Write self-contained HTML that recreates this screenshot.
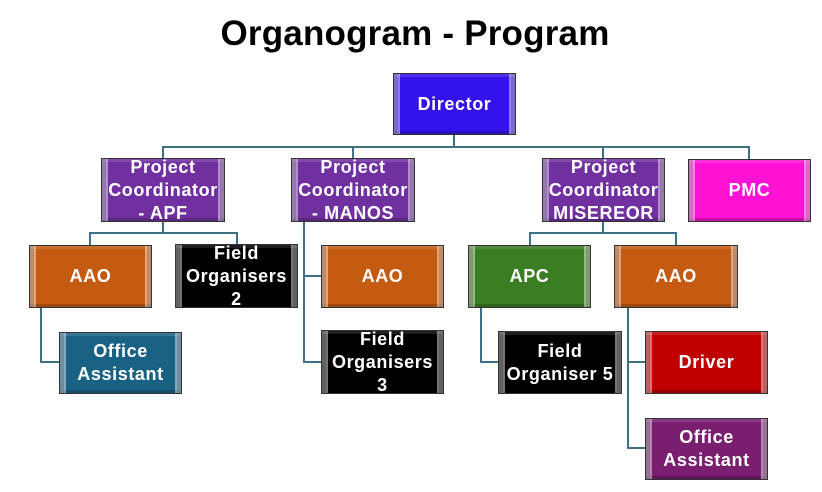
<!DOCTYPE html>
<html><head><meta charset="utf-8"><style>
body{margin:0;width:822px;height:492px;background:#fff;position:relative;overflow:hidden;font-family:"Liberation Sans",sans-serif}
h1{position:absolute;left:4px;top:12px;width:822px;margin:0;text-align:center;font-size:35px;font-weight:bold;color:#000;line-height:44px;letter-spacing:0.2px}
.b{position:absolute;box-sizing:border-box;border:1px solid #333;color:#fff;font-weight:bold;font-size:18px;line-height:23px;letter-spacing:0.6px;display:flex;align-items:center;justify-content:center;text-align:center;overflow:visible;white-space:nowrap;
box-shadow:inset 4px 0 0 rgba(0,0,0,.15),inset 6px 0 0 rgba(255,255,255,.45),inset -4px 0 0 rgba(0,0,0,.15),inset -6px 0 0 rgba(255,255,255,.45),inset 0 3px 0 rgba(255,255,255,.12),inset 0 -3px 0 rgba(0,0,0,.2)}
.l{position:absolute;background:#3f6f84}
</style></head><body>
<h1>Organogram - Program</h1>
<div class="l" style="left:453px;top:134px;width:2px;height:14px"></div>
<div class="l" style="left:162px;top:146px;width:588px;height:2px"></div>
<div class="l" style="left:162px;top:146px;width:2px;height:12px"></div>
<div class="l" style="left:352px;top:146px;width:2px;height:12px"></div>
<div class="l" style="left:602px;top:146px;width:2px;height:12px"></div>
<div class="l" style="left:748px;top:146px;width:2px;height:13px"></div>
<div class="l" style="left:162px;top:221px;width:2px;height:12px"></div>
<div class="l" style="left:89px;top:232px;width:149px;height:2px"></div>
<div class="l" style="left:89px;top:232px;width:2px;height:13px"></div>
<div class="l" style="left:236px;top:232px;width:2px;height:12px"></div>
<div class="l" style="left:40px;top:307px;width:2px;height:56px"></div>
<div class="l" style="left:40px;top:361px;width:19px;height:2px"></div>
<div class="l" style="left:303px;top:221px;width:2px;height:142px"></div>
<div class="l" style="left:303px;top:275px;width:18px;height:2px"></div>
<div class="l" style="left:303px;top:361px;width:18px;height:2px"></div>
<div class="l" style="left:602px;top:221px;width:2px;height:12px"></div>
<div class="l" style="left:529px;top:232px;width:148px;height:2px"></div>
<div class="l" style="left:529px;top:232px;width:2px;height:13px"></div>
<div class="l" style="left:675px;top:232px;width:2px;height:13px"></div>
<div class="l" style="left:480px;top:307px;width:2px;height:56px"></div>
<div class="l" style="left:480px;top:361px;width:18px;height:2px"></div>
<div class="l" style="left:627px;top:307px;width:2px;height:142px"></div>
<div class="l" style="left:627px;top:361px;width:18px;height:2px"></div>
<div class="l" style="left:627px;top:447px;width:18px;height:2px"></div>
<div class="b" style="left:393px;top:73px;width:123px;height:62px;background:#3312ec">Director</div>
<div class="b" style="left:101px;top:158px;width:124px;height:64px;background:#7030a0">Project<br>Coordinator<br>- APF</div>
<div class="b" style="left:291px;top:158px;width:124px;height:64px;background:#7030a0">Project<br>Coordinator<br>- MANOS</div>
<div class="b" style="left:542px;top:158px;width:123px;height:64px;background:#7030a0">Project<br>Coordinator<br>MISEREOR</div>
<div class="b" style="left:688px;top:159px;width:123px;height:63px;background:#ff12d4">PMC</div>
<div class="b" style="left:29px;top:245px;width:123px;height:63px;background:#c55a11">AAO</div>
<div class="b" style="left:175px;top:244px;width:123px;height:64px;background:#000">Field<br>Organisers<br>2</div>
<div class="b" style="left:321px;top:245px;width:123px;height:63px;background:#c55a11">AAO</div>
<div class="b" style="left:468px;top:245px;width:123px;height:63px;background:#3b7d23">APC</div>
<div class="b" style="left:614px;top:245px;width:124px;height:63px;background:#c55a11">AAO</div>
<div class="b" style="left:59px;top:332px;width:123px;height:62px;background:#1a6284">Office<br>Assistant</div>
<div class="b" style="left:321px;top:330px;width:123px;height:64px;background:#000">Field<br>Organisers<br>3</div>
<div class="b" style="left:498px;top:331px;width:124px;height:63px;background:#000">Field<br>Organiser 5</div>
<div class="b" style="left:645px;top:331px;width:123px;height:63px;background:#c00000">Driver</div>
<div class="b" style="left:645px;top:418px;width:123px;height:62px;background:#7a1f70">Office<br>Assistant</div>
</body></html>
